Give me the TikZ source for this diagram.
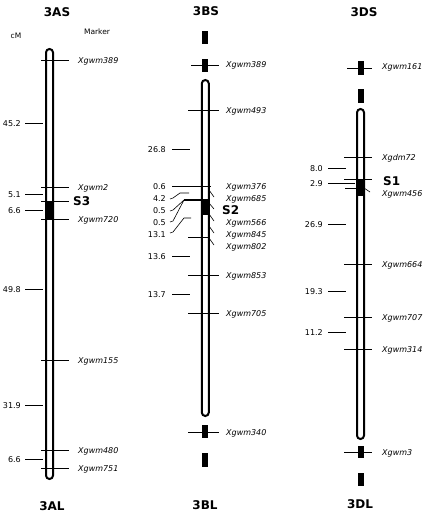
\documentclass[tikz,border=0pt]{standalone}
\usepackage{fontspec}
\setmainfont{DejaVu Sans}[ItalicFont={DejaVu Sans Oblique},BoldFont={DejaVu Sans Bold}]

\begin{document}
\begin{tikzpicture}[
		x=1pt, y=-1pt,
		chrom/.style={line width=2pt, fill=white, rounded corners=3.5pt},
		tickln/.style={line width=0.8pt},
		fanln/.style={line width=0.6pt},
		mklbl/.style={anchor=west, inner sep=0pt, font=\fontsize{8}{9}\selectfont\itshape, text height=6pt, text depth=0pt},
		cmval/.style={anchor=east, inner sep=0pt, font=\fontsize{8}{9}\selectfont, text height=6pt, text depth=0pt},
		locus/.style={anchor=west, inner sep=0pt, font=\fontsize{12}{14}\selectfont\bfseries, text height=8.5pt, text depth=0pt},
		ttl/.style={inner sep=0pt, font=\fontsize{12}{14}\selectfont\bfseries, text height=8.5pt, text depth=0pt},
		hdr/.style={inner sep=0pt, font=\fontsize{7.5}{9}\selectfont}
		]
		\useasboundingbox (0,0) rectangle (424,517);
		
		% 3A
		\node (t3AS) at (57,12) [ttl] {3AS};
		\node (t3AL) at (52,506) [ttl] {3AL};
		\node (hcm) at (16,36) [hdr] {cM};
		\node (hmk) at (97,32) [hdr] {Marker};
		\draw [chrom] (46,49) rectangle (53,479);
		\foreach \y in {60,187,201,219,360,450,468} \draw [tickln] (41,\y) -- (69,\y);
		\foreach \y in {123,194,210,289,405,459} \draw [tickln] (25,\y) -- (43,\y);
		\fill (45,201) rectangle (54,219);
		\node (a389) at (78,60) [mklbl] {Xgwm389};
		\node (a2) at (78,187) [mklbl] {Xgwm2};
		\node (s3) at (73,201) [locus] {S3};
		\node (a720) at (78,219) [mklbl] {Xgwm720};
		\node (a155) at (78,360) [mklbl] {Xgwm155};
		\node (a480) at (78,450) [mklbl] {Xgwm480};
		\node (a751) at (78,468) [mklbl] {Xgwm751};
		\node (ca1) at (21,123) [cmval] {45.2};
		\node (ca2) at (21,194) [cmval] {5.1};
		\node (ca3) at (21,210) [cmval] {6.6};
		\node (ca4) at (21,289) [cmval] {49.8};
		\node (ca5) at (21,405) [cmval] {31.9};
		\node (ca6) at (21,459) [cmval] {6.6};
		
		% 3B
		\node (t3BS) at (206,11) [ttl] {3BS};
		\node (t3BL) at (205,505) [ttl] {3BL};
		\fill (202.3,31) rectangle (208.3,44);
		\fill (202.3,59) rectangle (208.3,72);
		\fill (202.3,425) rectangle (208.3,438);
		\fill (202.3,453) rectangle (208.3,467);
		\draw [chrom] (201.8,80) rectangle (208.8,416);
		\draw [tickln] (191,65) -- (219,65);
		\foreach \y in {110,275,313,432} \draw [tickln] (188,\y) -- (219,\y);
		\draw [tickln] (172,186) -- (211,186);
		\draw [tickln] (188,237) -- (210,237);
		\foreach \y in {149,256,294} \draw [tickln] (172,\y) -- (190,\y);
		\draw [fanln] (170,199) -- (173,198) -- (180,193) -- (189,193);
		\draw [fanln] (170,211) -- (173,210) -- (184,200);
		\draw [fanln] (170,222) -- (173,221) -- (184,200);
		\draw [fanln] (170,233) -- (173,232) -- (184,218) -- (191,218);
		\draw [line width=2pt] (184,199.5) -- (202,199.5);
		\fill (201.8,199) rectangle (208.8,215);
		\draw [fanln] (209,190) -- (214,197);
		\draw [fanln] (209,203) -- (214,209);
		\draw [fanln] (209,214) -- (214,221);
		\draw [fanln] (209,226) -- (214,233);
		\draw [fanln] (209,238) -- (214,245);
		\node (b389) at (226,64) [mklbl] {Xgwm389};
		\node (b493) at (226,110) [mklbl] {Xgwm493};
		\node (b376) at (226,186) [mklbl] {Xgwm376};
		\node (b685) at (226,198) [mklbl] {Xgwm685};
		\node (s2) at (222,210) [locus] {S2};
		\node (b566) at (226,222) [mklbl] {Xgwm566};
		\node (b845) at (226,234) [mklbl] {Xgwm845};
		\node (b802) at (226,246) [mklbl] {Xgwm802};
		\node (b853) at (226,275) [mklbl] {Xgwm853};
		\node (b705) at (226,313) [mklbl] {Xgwm705};
		\node (b340) at (226,432) [mklbl] {Xgwm340};
		\node (cb1) at (166,149) [cmval] {26.8};
		\node (cb2) at (166,186) [cmval] {0.6};
		\node (cb3) at (166,198) [cmval] {4.2};
		\node (cb4) at (166,210) [cmval] {0.5};
		\node (cb5) at (166,222) [cmval] {0.5};
		\node (cb6) at (166,234) [cmval] {13.1};
		\node (cb7) at (166,256) [cmval] {13.6};
		\node (cb8) at (166,294) [cmval] {13.7};
		
		% 3D
		\node (t3DS) at (364,12) [ttl] {3DS};
		\node (t3DL) at (360,504) [ttl] {3DL};
		\fill (357.5,61) rectangle (363.5,75);
		\fill (357.5,89) rectangle (363.5,103);
		\fill (357.5,446) rectangle (363.5,458);
		\fill (357.5,473) rectangle (363.5,486);
		\draw [chrom] (357,109) rectangle (364,439);
		\draw [tickln] (347,68) -- (372,68);
		\foreach \y in {157,179,264,317,349,452} \draw [tickln] (344,\y) -- (372,\y);
		\draw [tickln] (345,188) -- (357,188);
		\foreach \y in {168,224,291,332} \draw [tickln] (328,\y) -- (346,\y);
		\draw [tickln] (328,183) -- (355,183);
		\fill (356.5,179) rectangle (364.5,196);
		\draw [fanln] (364,188) -- (370,192);
		\node (d161) at (382,66) [mklbl] {Xgwm161};
		\node (d72) at (382,157) [mklbl] {Xgdm72};
		\node (s1) at (383,181) [locus] {S1};
		\node (d456) at (382,193) [mklbl] {Xgwm456};
		\node (d664) at (382,264) [mklbl] {Xgwm664};
		\node (d707) at (382,317) [mklbl] {Xgwm707};
		\node (d314) at (382,349) [mklbl] {Xgwm314};
		\node (d3) at (382,452) [mklbl] {Xgwm3};
		\node (cd1) at (323,168) [cmval] {8.0};
		\node (cd2) at (323,183) [cmval] {2.9};
		\node (cd3) at (323,224) [cmval] {26.9};
		\node (cd4) at (323,291) [cmval] {19.3};
		\node (cd5) at (323,332) [cmval] {11.2};
	\end{tikzpicture}
\end{document}
